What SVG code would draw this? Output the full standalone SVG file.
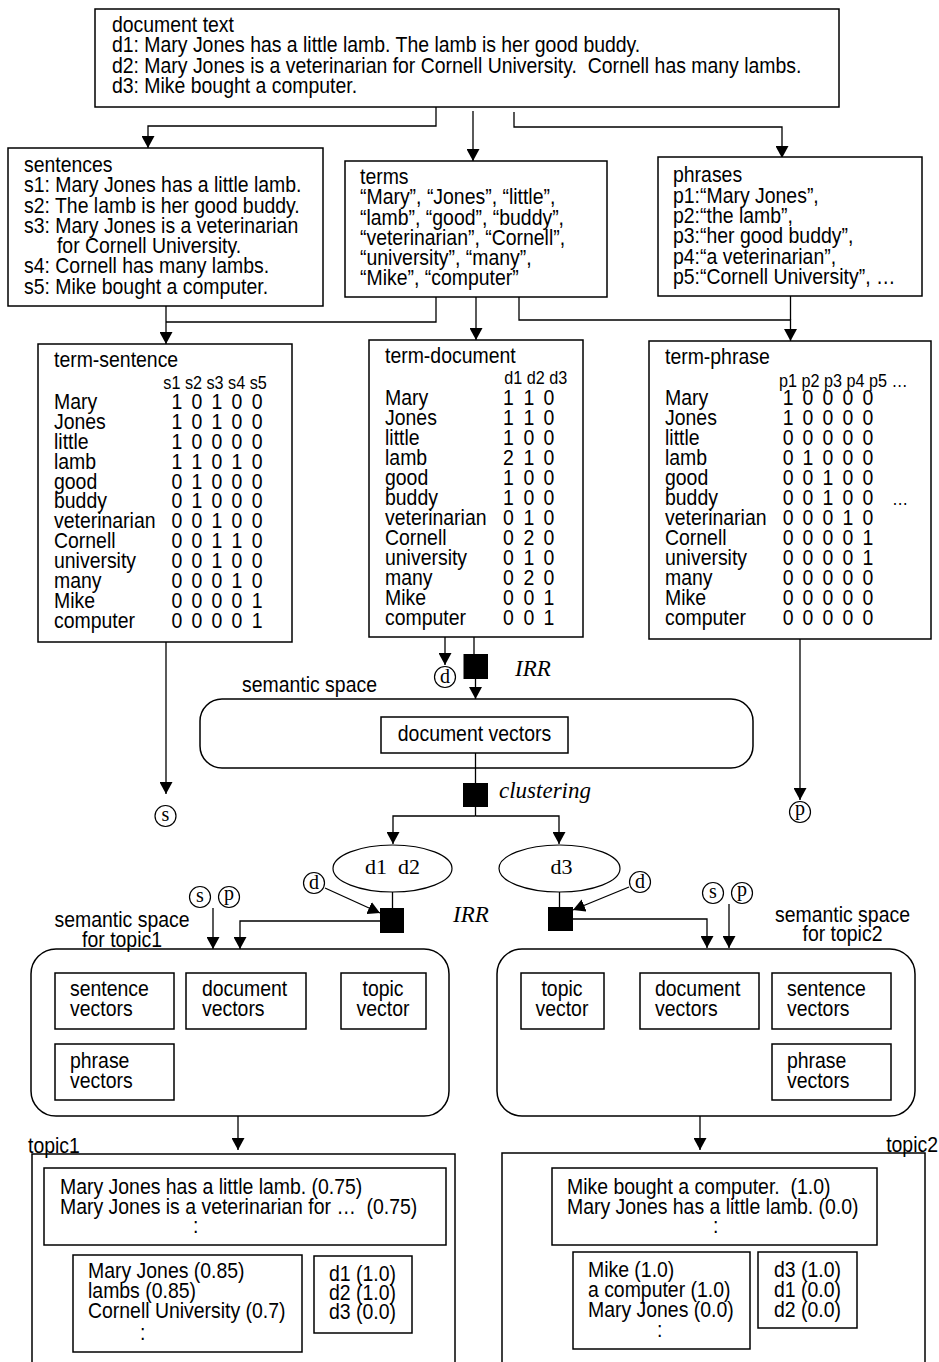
<svg xmlns="http://www.w3.org/2000/svg" width="939" height="1362" viewBox="0 0 939 1362">
<style>
.bx{fill:#fff;stroke:#000;stroke-width:1.5}
.rr{fill:none;stroke:#000;stroke-width:1.5}
.blk{fill:#000;stroke:none}
.ln{fill:none;stroke:#000;stroke-width:1.3}
.ar{marker-end:url(#ah)}
.s{font-family:"Liberation Sans",Arial,sans-serif;font-size:21.6px;fill:#000;transform:scale(0.9,1);transform-origin:0 0;transform-box:view-box}
.h{font-family:"Liberation Sans",Arial,sans-serif;font-size:18px;fill:#000;transform:scale(0.9,1);transform-origin:0 0;transform-box:view-box}
.m{text-anchor:middle}
.e{text-anchor:end}
.sf{font-family:"Liberation Serif","Times New Roman",serif;font-size:22px;fill:#000;text-anchor:middle}
.it{font-family:"Liberation Serif","Times New Roman",serif;font-size:23px;font-style:italic;fill:#000}
.cl{fill:#fff;stroke:#000;stroke-width:1.2}
.cs{font-family:"Liberation Serif","Times New Roman",serif;font-size:20px;fill:#000;text-anchor:middle}
</style>
<defs>
<marker id="ah" markerWidth="13" markerHeight="13" refX="12" refY="6.5" orient="auto" markerUnits="userSpaceOnUse"><path d="M0,0 L12,6.5 L0,13 z" fill="#000"/></marker>
</defs>

<g id="connectors">
<polyline class="ln ar" points="436,107 436,126 148,126 148,148"/>
<polyline class="ln ar" points="473,111 473,161"/>
<polyline class="ln ar" points="514,112 514,127 782,127 782,158"/>
<polyline class="ln ar" points="166,306 166,344"/>
<polyline class="ln" points="436,297 436,322 166,322"/>
<polyline class="ln ar" points="476,297 476,340"/>
<polyline class="ln ar" points="519,297 519,320 790.5,320 790.5,341"/>
<polyline class="ln" points="790.5,296 790.5,320"/>
<polyline class="ln ar" points="166,642 166,794"/>
<polyline class="ln ar" points="445,637 445,665"/>
<polyline class="ln" points="474,637 474,654"/>
<polyline class="ln ar" points="475.5,679 475.5,699"/>
<polyline class="ln" points="475.5,753 475.5,783"/>
<polyline class="ln" points="475.5,807 475.5,816"/>
<polyline class="ln ar" points="475.5,816 393,816 393,844"/>
<polyline class="ln ar" points="475.5,816 559,816 559,844"/>
<polyline class="ln ar" points="800,639 800,800"/>
<polyline class="ln" points="392.5,892 392.5,908"/>
<polyline class="ln ar" points="325,888 380,913"/>
<polyline class="ln ar" points="380,921 240,921 240,949"/>
<polyline class="ln ar" points="213,908 213,949"/>
<polyline class="ln" points="559.5,892 559.5,907"/>
<polyline class="ln ar" points="629,887 573,910"/>
<polyline class="ln ar" points="573,919 707,919 707,948"/>
<polyline class="ln ar" points="729,904 729,948"/>
<polyline class="ln ar" points="238,1116 238,1150"/>
<polyline class="ln ar" points="700,1116 700,1150"/>
</g>

<g id="document-text">
<rect class="bx" x="95" y="9" width="744" height="98"/>
<text class="s"><tspan x="124.4" y="32">document text</tspan><tspan x="124.4" y="52.3">d1: Mary Jones has a little lamb. The lamb is her good buddy.</tspan><tspan x="124.4" y="72.6" xml:space="preserve">d2: Mary Jones is a veterinarian for Cornell University.  Cornell has many lambs.</tspan><tspan x="124.4" y="92.9">d3: Mike bought a computer.</tspan></text>
</g>

<g id="sentences">
<rect class="bx" x="8" y="148" width="315" height="158"/>
<text class="s"><tspan x="26.7" y="172">sentences</tspan><tspan x="26.7" y="192.3">s1: Mary Jones has a little lamb.</tspan><tspan x="26.7" y="212.6">s2: The lamb is her good buddy.</tspan><tspan x="26.7" y="232.9">s3: Mary Jones is a veterinarian</tspan><tspan x="63.3" y="253.2">for Cornell University.</tspan><tspan x="26.7" y="273.5">s4: Cornell has many lambs.</tspan><tspan x="26.7" y="293.8">s5: Mike bought a computer.</tspan></text>
</g>

<g id="terms">
<rect class="bx" x="345" y="161" width="262" height="136"/>
<text class="s"><tspan x="400" y="184">terms</tspan><tspan x="400" y="204.3">“Mary”, “Jones”, “little”,</tspan><tspan x="400" y="224.6">“lamb”, “good”, “buddy”,</tspan><tspan x="400" y="244.9">“veterinarian”, “Cornell”,</tspan><tspan x="400" y="265.2">“university”, “many”,</tspan><tspan x="400" y="285.5">“Mike”, “computer”</tspan></text>
</g>

<g id="phrases">
<rect class="bx" x="658" y="157" width="264" height="139"/>
<text class="s"><tspan x="747.8" y="182.5">phrases</tspan><tspan x="747.8" y="202.8">p1:“Mary Jones”,</tspan><tspan x="747.8" y="223.1">p2:“the lamb”,</tspan><tspan x="747.8" y="243.4">p3:“her good buddy”,</tspan><tspan x="747.8" y="263.7">p4:“a veterinarian”,</tspan><tspan x="747.8" y="284">p5:“Cornell University”, …</tspan></text>
</g>

<g id="term-sentence">
<rect class="bx" x="38" y="344" width="254" height="298"/>
<text class="s" x="60" y="367">term-sentence</text>
<text class="h" x="181.5" y="389">s1 s2 s3 s4 s5</text>
<text class="s"><tspan x="60" y="409">Mary</tspan><tspan x="60" y="428.9">Jones</tspan><tspan x="60" y="448.8">little</tspan><tspan x="60" y="468.7">lamb</tspan><tspan x="60" y="488.6">good</tspan><tspan x="60" y="508.5">buddy</tspan><tspan x="60" y="528.4">veterinarian</tspan><tspan x="60" y="548.3">Cornell</tspan><tspan x="60" y="568.2">university</tspan><tspan x="60" y="588.1">many</tspan><tspan x="60" y="608">Mike</tspan><tspan x="60" y="627.9">computer</tspan></text>
<text class="s"><tspan x="190.7 212.9 235.1 257.3 279.6" y="409">10100</tspan><tspan x="190.7 212.9 235.1 257.3 279.6" y="428.9">10100</tspan><tspan x="190.7 212.9 235.1 257.3 279.6" y="448.8">10000</tspan><tspan x="190.7 212.9 235.1 257.3 279.6" y="468.7">11010</tspan><tspan x="190.7 212.9 235.1 257.3 279.6" y="488.6">01000</tspan><tspan x="190.7 212.9 235.1 257.3 279.6" y="508.5">01000</tspan><tspan x="190.7 212.9 235.1 257.3 279.6" y="528.4">00100</tspan><tspan x="190.7 212.9 235.1 257.3 279.6" y="548.3">00110</tspan><tspan x="190.7 212.9 235.1 257.3 279.6" y="568.2">00100</tspan><tspan x="190.7 212.9 235.1 257.3 279.6" y="588.1">00010</tspan><tspan x="190.7 212.9 235.1 257.3 279.6" y="608">00001</tspan><tspan x="190.7 212.9 235.1 257.3 279.6" y="627.9">00001</tspan></text>
</g>

<g id="term-document">
<rect class="bx" x="369" y="340" width="214" height="297"/>
<text class="s" x="427.8" y="363">term-document</text>
<text class="h" x="560.3" y="384">d1 d2 d3</text>
<text class="s"><tspan x="427.8" y="405">Mary</tspan><tspan x="427.8" y="425">Jones</tspan><tspan x="427.8" y="445">little</tspan><tspan x="427.8" y="465">lamb</tspan><tspan x="427.8" y="485">good</tspan><tspan x="427.8" y="505">buddy</tspan><tspan x="427.8" y="525">veterinarian</tspan><tspan x="427.8" y="545">Cornell</tspan><tspan x="427.8" y="565">university</tspan><tspan x="427.8" y="585">many</tspan><tspan x="427.8" y="605">Mike</tspan><tspan x="427.8" y="625">computer</tspan></text>
<text class="s"><tspan x="559 581.8 604" y="405">110</tspan><tspan x="559 581.8 604" y="425">110</tspan><tspan x="559 581.8 604" y="445">100</tspan><tspan x="559 581.8 604" y="465">210</tspan><tspan x="559 581.8 604" y="485">100</tspan><tspan x="559 581.8 604" y="505">100</tspan><tspan x="559 581.8 604" y="525">010</tspan><tspan x="559 581.8 604" y="545">020</tspan><tspan x="559 581.8 604" y="565">010</tspan><tspan x="559 581.8 604" y="585">020</tspan><tspan x="559 581.8 604" y="605">001</tspan><tspan x="559 581.8 604" y="625">001</tspan></text>
</g>

<g id="term-phrase">
<rect class="bx" x="649" y="341" width="282" height="298"/>
<text class="s" x="738.9" y="364">term-phrase</text>
<text class="h" x="865.6" y="387">p1 p2 p3 p4 p5 …</text>
<text class="h" x="991.1" y="505">…</text>
<text class="s"><tspan x="738.9" y="405">Mary</tspan><tspan x="738.9" y="425">Jones</tspan><tspan x="738.9" y="445">little</tspan><tspan x="738.9" y="465">lamb</tspan><tspan x="738.9" y="485">good</tspan><tspan x="738.9" y="505">buddy</tspan><tspan x="738.9" y="525">veterinarian</tspan><tspan x="738.9" y="545">Cornell</tspan><tspan x="738.9" y="565">university</tspan><tspan x="738.9" y="585">many</tspan><tspan x="738.9" y="605">Mike</tspan><tspan x="738.9" y="625">computer</tspan></text>
<text class="s"><tspan x="869.6 891.8 913.9 936.2 958.4" y="405">10000</tspan><tspan x="869.6 891.8 913.9 936.2 958.4" y="425">10000</tspan><tspan x="869.6 891.8 913.9 936.2 958.4" y="445">00000</tspan><tspan x="869.6 891.8 913.9 936.2 958.4" y="465">01000</tspan><tspan x="869.6 891.8 913.9 936.2 958.4" y="485">00100</tspan><tspan x="869.6 891.8 913.9 936.2 958.4" y="505">00100</tspan><tspan x="869.6 891.8 913.9 936.2 958.4" y="525">00010</tspan><tspan x="869.6 891.8 913.9 936.2 958.4" y="545">00001</tspan><tspan x="869.6 891.8 913.9 936.2 958.4" y="565">00001</tspan><tspan x="869.6 891.8 913.9 936.2 958.4" y="585">00000</tspan><tspan x="869.6 891.8 913.9 936.2 958.4" y="605">00000</tspan><tspan x="869.6 891.8 913.9 936.2 958.4" y="625">00000</tspan></text>
</g>

<g id="s-ref-1"><circle class="cl" cx="165.5" cy="816" r="10.5"/><text class="cs" x="165.5" y="821">s</text></g>
<g id="d-ref-1"><circle class="cl" cx="445" cy="677" r="10.5"/><text class="cs" x="445" y="683">d</text></g>
<g id="p-ref-1"><circle class="cl" cx="800" cy="812" r="10.5"/><text class="cs" x="800" y="815">p</text></g>

<g id="irr-1"><rect class="blk" x="463.5" y="654" width="24.5" height="25"/><text class="it" x="515" y="676">IRR</text></g>

<g id="semantic-space">
<rect class="rr" x="200" y="699" width="553" height="69" rx="22"/>
<text class="s" x="268.9" y="692">semantic space</text>
<rect class="bx" x="381" y="717" width="187" height="36"/>
<text class="s m" x="527.2" y="741">document vectors</text>
</g>

<g id="clustering"><rect class="blk" x="463" y="783" width="25" height="24"/><text class="it" x="499" y="798">clustering</text></g>

<g id="cluster-d1d2"><ellipse class="cl" cx="392.5" cy="868.5" rx="59.5" ry="23.5"/><text class="sf" x="392.5" y="874" xml:space="preserve">d1  d2</text></g>
<g id="cluster-d3"><ellipse class="cl" cx="559.5" cy="868.5" rx="60.5" ry="23.5"/><text class="sf" x="561.5" y="874">d3</text></g>

<g id="irr-2"><rect class="blk" x="380" y="908" width="24" height="25"/><text class="it" x="453" y="922">IRR</text></g>
<g id="irr-3"><rect class="blk" x="548" y="907" width="25" height="24"/></g>

<g id="d-ref-2"><circle class="cl" cx="314" cy="883" r="10.5"/><text class="cs" x="314" y="889">d</text></g>
<g id="s-ref-2"><circle class="cl" cx="200" cy="897" r="10.5"/><text class="cs" x="200" y="902">s</text></g>
<g id="p-ref-2"><circle class="cl" cx="229" cy="897" r="10.5"/><text class="cs" x="229" y="900">p</text></g>
<g id="d-ref-3"><circle class="cl" cx="640" cy="882" r="10.5"/><text class="cs" x="640" y="888">d</text></g>
<g id="s-ref-3"><circle class="cl" cx="713" cy="893" r="10.5"/><text class="cs" x="713" y="898">s</text></g>
<g id="p-ref-3"><circle class="cl" cx="742" cy="893" r="10.5"/><text class="cs" x="742" y="896">p</text></g>

<g id="space-topic1">
<rect class="rr" x="31" y="949" width="418" height="167" rx="25"/>
<text class="s m"><tspan x="135.6" y="927">semantic space</tspan><tspan x="135.6" y="947">for topic1</tspan></text>
<rect class="bx" x="55" y="973" width="119" height="56"/>
<text class="s"><tspan x="77.8" y="996">sentence</tspan><tspan x="77.8" y="1016">vectors</tspan></text>
<rect class="bx" x="186" y="973" width="120" height="56"/>
<text class="s"><tspan x="224.4" y="996">document</tspan><tspan x="224.4" y="1016">vectors</tspan></text>
<rect class="bx" x="341" y="973" width="85" height="56"/>
<text class="s m"><tspan x="425.6" y="996">topic</tspan><tspan x="425.6" y="1016">vector</tspan></text>
<rect class="bx" x="55" y="1044" width="119" height="56"/>
<text class="s"><tspan x="77.8" y="1068">phrase</tspan><tspan x="77.8" y="1088">vectors</tspan></text>
</g>

<g id="space-topic2">
<rect class="rr" x="497" y="949" width="418" height="167" rx="25"/>
<text class="s m"><tspan x="936.1" y="922">semantic space</tspan><tspan x="936.1" y="941">for topic2</tspan></text>
<rect class="bx" x="521" y="973" width="83" height="56"/>
<text class="s m"><tspan x="624.4" y="996">topic</tspan><tspan x="624.4" y="1016">vector</tspan></text>
<rect class="bx" x="640" y="973" width="119" height="56"/>
<text class="s"><tspan x="727.8" y="996">document</tspan><tspan x="727.8" y="1016">vectors</tspan></text>
<rect class="bx" x="772" y="973" width="119" height="56"/>
<text class="s"><tspan x="874.4" y="996">sentence</tspan><tspan x="874.4" y="1016">vectors</tspan></text>
<rect class="bx" x="772" y="1044" width="119" height="56"/>
<text class="s"><tspan x="874.4" y="1068">phrase</tspan><tspan x="874.4" y="1088">vectors</tspan></text>
</g>

<g id="topic1">
<rect class="bx" x="32" y="1154" width="423" height="230"/>
<text class="s" x="31.1" y="1153">topic1</text>
<rect class="bx" x="44" y="1168" width="402" height="77"/>
<text class="s"><tspan x="66.7" y="1194">Mary Jones has a little lamb. (0.75)</tspan><tspan x="66.7" y="1214" xml:space="preserve">Mary Jones is a veterinarian for …  (0.75)</tspan><tspan x="214.4" y="1233">:</tspan></text>
<rect class="bx" x="73" y="1255" width="229" height="97"/>
<text class="s"><tspan x="97.8" y="1278">Mary Jones (0.85)</tspan><tspan x="97.8" y="1298">lambs (0.85)</tspan><tspan x="97.8" y="1318">Cornell University (0.7)</tspan><tspan x="155.6" y="1340">:</tspan></text>
<rect class="bx" x="314" y="1256" width="98" height="77"/>
<text class="s"><tspan x="365.6" y="1281">d1 (1.0)</tspan><tspan x="365.6" y="1300">d2 (1.0)</tspan><tspan x="365.6" y="1319">d3 (0.0)</tspan></text>
</g>

<g id="topic2">
<rect class="bx" x="502" y="1153" width="423" height="230"/>
<text class="s e" x="1042.2" y="1152">topic2</text>
<rect class="bx" x="552" y="1168" width="325" height="77"/>
<text class="s"><tspan x="630" y="1194" xml:space="preserve">Mike bought a computer.  (1.0)</tspan><tspan x="630" y="1214">Mary Jones has a little lamb. (0.0)</tspan><tspan x="792.2" y="1233">:</tspan></text>
<rect class="bx" x="573" y="1252" width="177" height="97"/>
<text class="s"><tspan x="653.3" y="1277">Mike (1.0)</tspan><tspan x="653.3" y="1297">a computer (1.0)</tspan><tspan x="653.3" y="1317">Mary Jones (0.0)</tspan><tspan x="730" y="1337">:</tspan></text>
<rect class="bx" x="758" y="1252" width="99" height="76"/>
<text class="s"><tspan x="860" y="1277">d3 (1.0)</tspan><tspan x="860" y="1297">d1 (0.0)</tspan><tspan x="860" y="1317">d2 (0.0)</tspan></text>
</g>
</svg>
